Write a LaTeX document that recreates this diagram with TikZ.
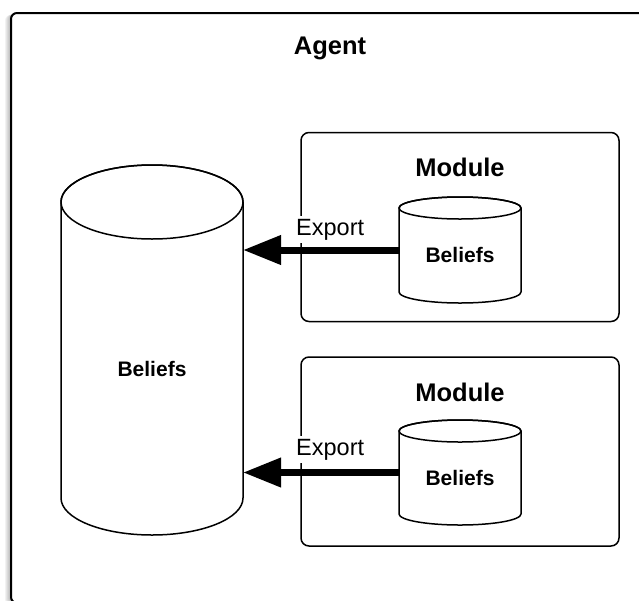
\documentclass[tikz,border=0pt]{standalone}
\usepackage{fontspec}
\setmainfont{Liberation Sans}
\usetikzlibrary{arrows.meta}
\newcommand\mycyl[6]{%
  \node[cylbox, minimum width={2*#5*1pt}, minimum height={(#4-#3)*1pt}] (#1) at (#2,{(#3+#4)/2}) {};
  \draw[cylline, fill=white] (#1.north west) -- (#1.south west)
     arc[start angle=180, end angle=360, x radius=#5pt, y radius=#6pt]
     -- (#1.north east)
     arc[start angle=0, end angle=180, x radius=#5pt, y radius=#6pt] -- cycle;
  \draw[cylline] (#1.north) ellipse[x radius=#5pt, y radius=#6pt];
}
\begin{document}
\begin{tikzpicture}[x=1pt,y=-1pt,
  agentbox/.style={draw, line width=2pt, rounded corners=6pt, fill=white,
    minimum width=669pt, minimum height=590pt, inner sep=0pt},
  modbox/.style={draw, line width=1.5pt, rounded corners=8pt, fill=white,
    minimum width=318pt, minimum height=189pt, inner sep=0pt},
  cylbox/.style={inner sep=0pt, outer sep=0pt},
  cylline/.style={line width=1.5pt, line join=round},
  title/.style={font=\fontsize{25.5}{30}\selectfont\bfseries, inner sep=0pt, anchor=base},
  blf/.style={font=\fontsize{21}{25}\selectfont\bfseries, inner sep=0pt, anchor=base},
  exptext/.style={font=\fontsize{23.5}{28}\selectfont, fill=white, inner xsep=1pt,
    inner ysep=3pt, anchor=base west},
  exportarrow/.style={line width=7pt, -{Triangle[length=38pt,width=28pt]}}
]
\useasboundingbox (0,0) rectangle (639,600);
\begin{scope}
\clip (0,0) rectangle (639,600);
% soft shadow of the agent box
\foreach \s in {1,...,6}
  \fill[black, opacity=0.05, rounded corners=6pt] ({11-\s},{13+0.3*\s}) rectangle (680,{603+0.3*\s});
\node[agentbox] (agent) at (345.5,308) {};
\node[title] (agentlbl) at (330,54) {Agent};

% modules
\node[modbox] (m1) at (460,227) {};
\node[modbox] (m2) at (460,451.5) {};
\node[title] (m1lbl) at (460,176) {Module};
\node[title] (m2lbl) at (460,401) {Module};

% cylinders
\mycyl{big}{152}{202}{498}{91}{37}
\mycyl{sb1}{460}{208}{292}{61}{11}
\mycyl{sb2}{460}{431}{514}{61}{11}

\node[blf] (bigl) at (152,376) {Beliefs};
\node[blf] (sb1l) at (460,262) {Beliefs};
\node[blf] (sb2l) at (460,485) {Beliefs};

% export labels and arrows
\node[exptext] (e1) at (295,235) {Export};
\node[exptext] (e2) at (295,455) {Export};
\draw[exportarrow] (sb1.west) -- (sb1.west -| big.east);
\draw[exportarrow] (sb2.west) -- (sb2.west -| big.east);
\end{scope}
\end{tikzpicture}
\end{document}
